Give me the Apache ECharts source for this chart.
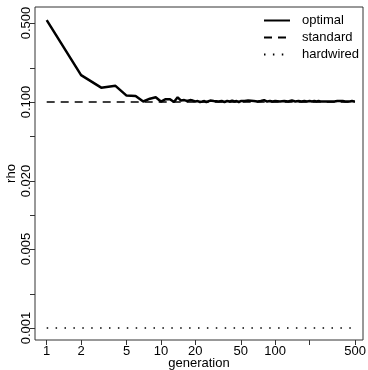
<!DOCTYPE html>
<html><head><meta charset="utf-8">
<script src="https://cdn.jsdelivr.net/npm/echarts@6/dist/echarts.min.js"></script>
<style>html,body{margin:0;padding:0;background:#fff}#c{width:368px;height:370px}</style>
</head><body><div id="c"></div>
<script>
const generations = [1,2,3,4,5,6,7,8,9,10,11,12,13,14,15,16,17,18,19,20,21,22,23,24,25,26,27,28,29,30,
  32,34,36,38,40,42,44,46,48,50,52,54,56,58,60,65,70,75,80,85,90,95,100,
  110,120,130,140,150,160,170,180,190,200,210,220,230,240,250,260,270,280,290,300,
  310,320,330,340,350,360,370,380,390,400,410,420,430,440,450,460,470,480,490,500];
const optimal = [0.530,0.173,0.134,0.139,0.114,0.113,0.101,0.107,0.110,0.101,0.106,0.106,0.100,0.110,0.103,0.104,0.102,0.104,0.103,0.101,
  0.102,0.100,0.101,0.102,0.100,0.101,0.103,0.101,0.102,0.100,
  0.101,0.102,0.100,0.102,0.101,0.103,0.101,0.102,0.100,0.102,0.101,0.102,0.101,0.103,0.101,0.102,0.101,0.102,0.104,0.101,0.102,0.101,0.102,
  0.101,0.102,0.101,0.103,0.101,0.102,0.101,0.102,0.101,0.102,0.101,0.102,0.101,0.102,0.101,0.102,0.101,0.102,0.101,0.102,
  0.101,0.102,0.101,0.101,0.102,0.101,0.102,0.101,0.102,0.101,0.101,0.102,0.101,0.102,0.101,0.101,0.102,0.101,0.101,0.101];
const standardGen = [1, 500];
const standardRho = [0.1, 0.1];
const hardwiredGen = [1, 500];
const hardwiredRho = [0.001, 0.001];
const xTicks = [1,2,5,10,20,50,100,200,500];
const xLabels = [1,2,5,10,20,50,100,500];
const yTicks = [0.001,0.002,0.005,0.01,0.02,0.05,0.1,0.2,0.5];
const yLabels = [0.001,0.005,0.02,0.1,0.5];

const FONT = 'Liberation Sans';
const chart = echarts.init(document.getElementById('c'));
const zip = (a,b) => a.map((v,i) => [v, b[i]]);
chart.setOption({
  animation: false,
  grid: {left: 35, right: 5, top: 7, bottom: 30, show: true, borderColor: '#333', borderWidth: 1, backgroundColor: 'transparent', containLabel: false, outerBoundsMode: 'none'},
  legend: {
    orient: 'vertical', left: 263, top: 14, padding: 0, itemWidth: 26, itemHeight: 12, itemGap: 4,
    itemStyle: {opacity: 0},
    textStyle: {fontFamily: FONT, fontSize: 13, color: '#000', padding: [0,0,0,7]},
    data: ['optimal','standard','hardwired']
  },
  xAxis: {
    type: 'log', logBase: 10, min: 0.79, max: 587,
    name: 'generation', nameLocation: 'middle', nameGap: 17, nameMoveOverlap: false,
    nameTextStyle: {fontFamily: FONT, fontSize: 13, color: '#000'},
    axisLine: {show: false},
    axisTick: {show: true, inside: false, length: 5, lineStyle: {color: '#333'}, customValues: xTicks},
    axisLabel: {fontFamily: FONT, fontSize: 13, color: '#000', margin: 5, customValues: xLabels, formatter: v => String(v)},
    splitLine: {show: false}, minorTick: {show: false}
  },
  yAxis: {
    type: 'log', logBase: 10, min: 0.000783, max: 0.693,
    name: 'rho', nameLocation: 'middle', nameGap: 17, nameMoveOverlap: false,
    nameTextStyle: {fontFamily: FONT, fontSize: 13, color: '#000'},
    axisLine: {show: false},
    axisTick: {show: true, inside: false, length: 5, lineStyle: {color: '#333'}, customValues: yTicks},
    axisLabel: {fontFamily: FONT, fontSize: 13, color: '#000', margin: 2, rotate: 90, customValues: yLabels, formatter: v => Number(v).toFixed(3)},
    splitLine: {show: false}, minorTick: {show: false}
  },
  series: [
    {name: 'optimal', type: 'line', data: zip(generations, optimal), symbol: 'none', lineStyle: {color: '#000', width: 2.5}, itemStyle: {color: '#000'}},
    {name: 'standard', type: 'line', data: zip(standardGen, standardRho), symbol: 'none', lineStyle: {color: '#000', width: 1.5, type: [8,6]}, itemStyle: {color: '#000'}},
    {name: 'hardwired', type: 'line', data: zip(hardwiredGen, hardwiredRho), symbol: 'none', lineStyle: {color: '#000', width: 1.5, type: [1.5,7.4]}, itemStyle: {color: '#000'}}
  ]
});
</script></body></html>
